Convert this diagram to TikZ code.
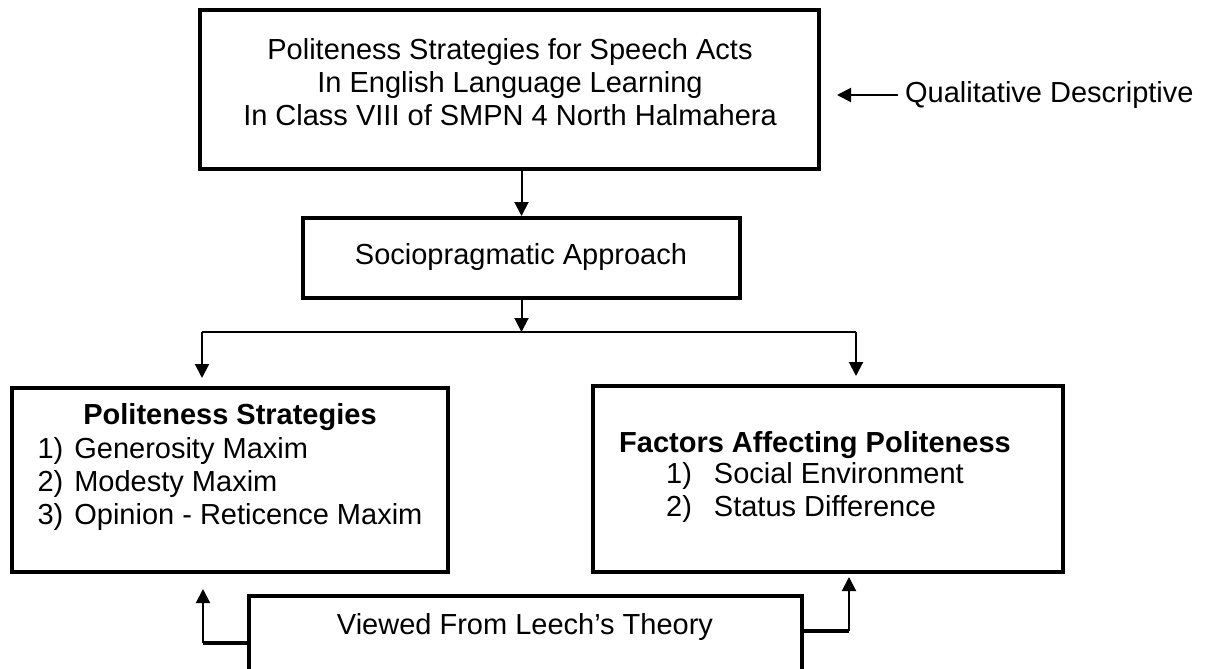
\documentclass[tikz,border=0pt]{standalone}
\usepackage{fontspec}
\setmainfont{Liberation Sans}
\usetikzlibrary{positioning,fit,arrows.meta}

\tikzset{
  box/.style={draw, line width=2pt, inner sep=0pt},
  txt/.style={align=center, font=\fontsize{14.5}{16.5}\selectfont},
  arr/.style={line width=1pt, -{Triangle[length=7pt,width=7pt]}},
  stub/.style={line width=1.6pt},
}

\begin{document}
\begin{tikzpicture}[x=0.5pt,y=-0.5pt]
\useasboundingbox (0,0) rectangle (1215,669);
\clip (0,0) rectangle (1215,669);
% research topic
\node[txt] (titletext) at (510,82) {Politeness Strategies for Speech Acts\\In English Language Learning\\In Class VIII of SMPN 4 North Halmahera};
\node[box, fit={(200,10) (819,169)}] (title) {};
\node[txt, anchor=west] (method) at (898,95) {Qualitative Descriptive};
\coordinate (methodtip) at (837,95);
\draw[arr] (method.west) -- (methodtip);
% approach
\node[txt] (sociotext) at (521,257) {Sociopragmatic Approach};
\node[box, fit={(303,218) (740,298)}] (socio) {};
\draw[arr] (socio.north |- title.south) -- (socio.north);
% branches
\coordinate (lbr) at (202,332);
\coordinate (rbr) at (856,332);
\draw[arr] (socio.south) -- (socio.south |- lbr);
\draw[line width=0.8pt] (lbr) -- (rbr);
\node[txt] (strattext) at (230,469) {{\bfseries Politeness Strategies}\\[1pt]
  \begin{tabular}{@{}l@{\hspace{5.5pt}}l@{}}
  1) & Generosity Maxim\\
  2) & Modesty Maxim\\
  3) & Opinion - Reticence Maxim
  \end{tabular}};
\node[box, fit={(12,388) (448,572)}] (strat) {};
\node[txt] (factortext) at (815,479) {{\bfseries Factors Affecting Politeness}\\
  \begin{tabular}{@{}l@{\hspace{11pt}}l@{}}
  1) & Social Environment\\
  2) & Status Difference
  \end{tabular}};
\node[box, fit={(593,386) (1063,572)}] (factor) {};
\draw[arr, shorten >=4pt] (lbr) -- (lbr |- strat.north);
\draw[arr, shorten >=4pt] (rbr) -- (rbr |- factor.north);
% theory
\node[txt] (leechtext) at (525,627) {Viewed From Leech’s Theory};
\node[box, fit={(249,596) (802,720)}] (leech) {};
\coordinate (lbend) at (203,643);
\coordinate (ltip) at (203,589);
\coordinate (rbend) at (849,631);
\coordinate (rtip) at (849,577);
\draw[stub] (lbend -| leech.west) -- (lbend);
\draw[arr] (lbend) -- (ltip);
\draw[stub] (rbend -| leech.east) -- (rbend);
\draw[arr] (rbend) -- (rtip);
\end{tikzpicture}
\end{document}
